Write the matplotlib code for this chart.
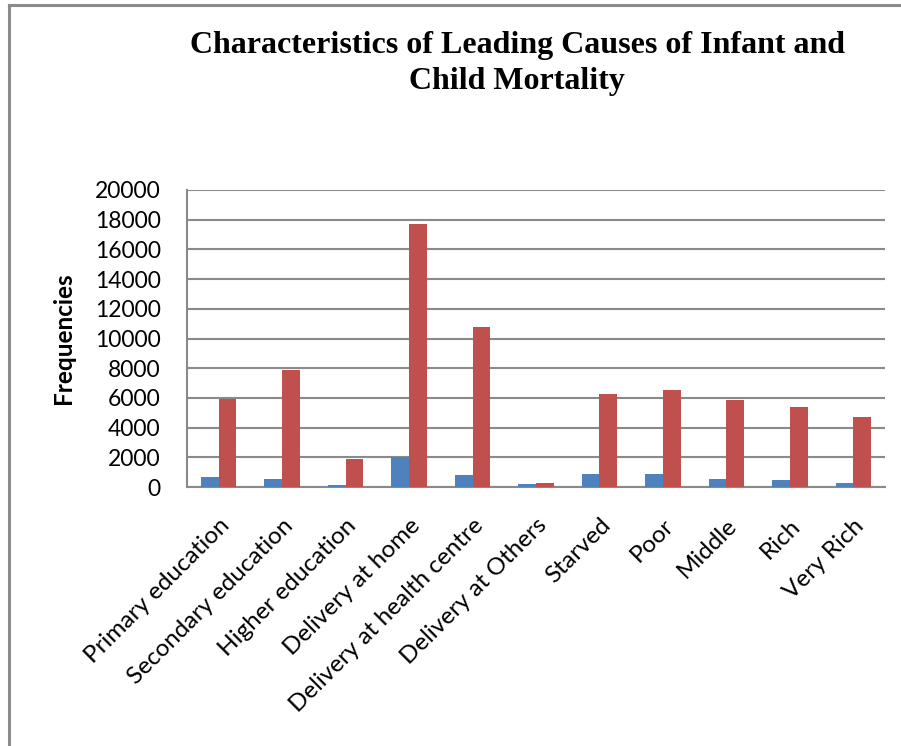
import matplotlib
matplotlib.use("Agg")
import matplotlib.pyplot as plt
import numpy as np

categories = ["Primary education", "Secondary education", "Higher education",
              "Delivery at home", "Delivery at health centre", "Delivery at Others",
              "Starved", "Poor", "Middle", "Rich", "Very Rich"]
series_blue = [650, 520, 135, 2040, 800, 180, 870, 870, 540, 470, 250]
series_red = [5900, 7850, 1900, 17700, 10800, 250, 6230, 6550, 5870, 5400, 4700]
yticks = [0, 2000, 4000, 6000, 8000, 10000, 12000, 14000, 16000, 18000, 20000]

W, H = 901, 746
fig = plt.figure(figsize=(W/100, H/100), dpi=100)
fig.patch.set_facecolor("white")

# outer border (left and top)
fig.add_artist(plt.Line2D([9/W, 9/W], [0, 1 - 5/H], color="#8c8c8c", lw=2.2, transform=fig.transFigure))
fig.add_artist(plt.Line2D([9/W, 1], [1 - 5/H, 1 - 5/H], color="#8c8c8c", lw=2.2, transform=fig.transFigure))

left, right, top, bottom = 187, 885, 190, 487
ax = fig.add_axes([left/W, 1 - bottom/H, (right-left)/W, (bottom-top)/H])

x = np.arange(len(categories))
bw = 0.28
ax.bar(x - bw/2, series_blue, width=bw, color="#4F81BD", zorder=3)
ax.bar(x + bw/2, series_red, width=bw, color="#C0504D", zorder=3)

ax.set_xlim(-0.5, len(categories) - 0.5)
ax.set_ylim(0, 20000)
ax.set_yticks(yticks)
ax.set_yticklabels([str(v) for v in yticks], fontfamily="Lato", fontsize=16.5)
ax.yaxis.grid(True, color="#8a8a8a", lw=1.5, zorder=0)
ax.set_axisbelow(True)
for s in ["top", "right"]:
    ax.spines[s].set_visible(False)
ax.spines["left"].set_color("#8a8a8a")
ax.spines["bottom"].set_color("#8a8a8a")
ax.spines["left"].set_linewidth(1.5)
ax.spines["bottom"].set_linewidth(1.5)
ax.tick_params(axis="y", length=0, pad=19)
ax.tick_params(axis="x", length=0, pad=20)
ax.set_xticks(x)
ax.set_xticklabels(categories, rotation=45, ha="right", rotation_mode="anchor",
                   fontfamily="Lato", fontsize=17.5)
for lbl in ax.get_xticklabels():
    lbl.set_x(lbl.get_position()[0])
ax.set_ylabel("Frequencies", fontfamily="Lato", fontsize=17.5, fontweight="bold", labelpad=14)

fig.text(517/W, 1 - 45/H, "Characteristics of Leading Causes of Infant and",
         ha="center", va="center", fontfamily="Liberation Serif", fontweight="bold", fontsize=23)
fig.text(517/W, 1 - 82/H, "Child Mortality",
         ha="center", va="center", fontfamily="Liberation Serif", fontweight="bold", fontsize=23)

fig.savefig("out.png", dpi=100)
